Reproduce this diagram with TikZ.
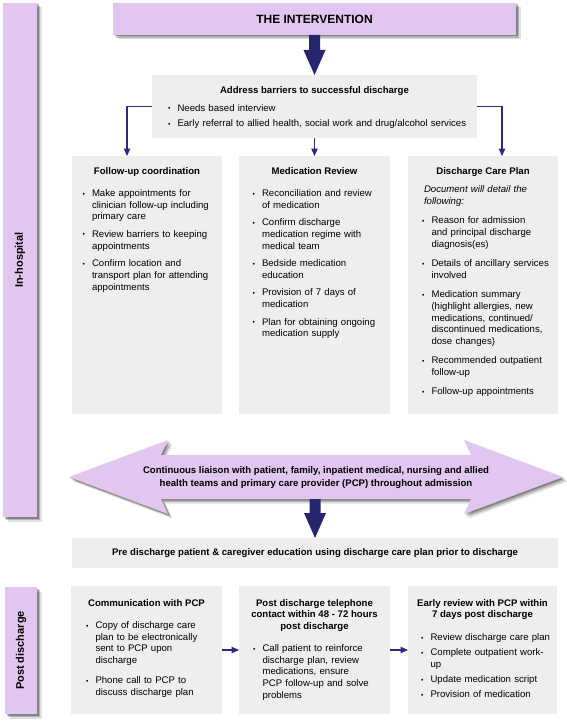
\documentclass[tikz,border=0pt]{standalone}
\usepackage{fontspec}
\setmainfont{Liberation Sans}
\usetikzlibrary{arrows.meta,shadows,calc}
\definecolor{lilac}{HTML}{E1C6F0}
\definecolor{boxgray}{HTML}{F0EEEC}
\definecolor{navy}{HTML}{2A2A80}
\definecolor{deepnavy}{HTML}{26266E}
\newlength\bgap \setlength\bgap{5.8pt}
\newlength\bind \setlength\bind{9.5pt}
\newcommand{\bi}[2][\bgap]{\par\vspace{#1}\hangindent=\bind\hangafter=1\rightskip=-40pt plus 1fil\relax\noindent\hbox to \bind{\raisebox{.5pt}{\scalebox{.7}{\textbullet}}\hss}\strut #2\par}
\newcommand{\fatarrow}[2]{\fill[deepnavy] ($(#1)+(-5.5,0)$) -- ($(#2)+(-5.5,25)$) -- ($(#2)+(-11,25)$) -- (#2) -- ($(#2)+(11,25)$) -- ($(#2)+(5.5,25)$) -- ($(#1)+(5.5,0)$) -- cycle;}
\begin{document}
\begin{tikzpicture}[x=1pt,y=1pt,
  every node/.style={font=\fontsize{9.6}{11.7}\selectfont, inner sep=0pt, outer sep=0pt},
  lshadow/.style={general shadow={fill=black,opacity=.26,shadow xshift=1.5pt,shadow yshift=-1.5pt},
                  general shadow={fill=black,opacity=.2,shadow xshift=3pt,shadow yshift=-3pt},
                  general shadow={fill=black,opacity=.12,shadow xshift=4.5pt,shadow yshift=-4.5pt}},
  lilacbox/.style={fill=lilac, lshadow, anchor=north west},
  graybox/.style={fill=boxgray, anchor=north west},
  hdr/.style={anchor=north, align=center, font=\fontsize{9.6}{11.8}\selectfont\bfseries},
  body/.style={anchor=north west, text width=135pt, align=left, font=\fontsize{9.6}{11.7}\selectfont},
  sidelabel/.style={rotate=90, font=\fontsize{11}{13}\selectfont\bfseries},
  conn/.style={draw=navy, line width=1.1pt, -{Triangle[width=6.5pt,length=7.5pt]}}
]
\fill[white] (0,0) rectangle (567,-725);
\useasboundingbox (0,0) rectangle (567,-725);

% side bars
\node[lilacbox, minimum width=34, minimum height=514] (inbar) at (3,-3) {};
\node[sidelabel] (inlab) at (inbar.center) {In-hospital};
\node[lilacbox, minimum width=32, minimum height=127] (postbar) at (5,-587) {};
\node[sidelabel] (postlab) at (postbar.center) {Post discharge};

% intervention
\node[lilacbox, minimum width=403, minimum height=32, font=\fontsize{12}{14}\selectfont\bfseries] (int) at (113,-3) {};
\node[font=\fontsize{12}{14}\selectfont\bfseries] (intlab) at (int.center) {THE INTERVENTION};

% address barriers
\node[graybox, minimum width=325, minimum height=63] (addr) at (152,-75) {};
\node[hdr] (addrh) at ($(addr.north)+(0,-9.8)$) {\strut Address barriers to successful discharge};
\node[body, text width=300pt] (addrb) at ($(addr.north west)+(16,-24.8)$) {%
  \bi[0pt]{Needs based interview}
  \bi[3.3pt]{Early referral to allied health, social work and drug/alcohol services}};

\fatarrow{int.south}{addr.north}

% columns
\node[graybox, minimum width=150, minimum height=258] (fu) at (72,-156) {};
\node[graybox, minimum width=151, minimum height=258] (med) at (239,-156) {};
\node[graybox, minimum width=150, minimum height=258] (dcp) at (408,-156) {};

\node[hdr] (fuh) at ($(fu.north)+(0,-9.8)$) {\strut Follow-up coordination};
\node[body] (fub) at ($(fu.north west)+(10.5,-28.8)$) {%
  \bi[0pt]{Make appointments for\newline clinician follow-up including\newline primary care}
  \bi{Review barriers to keeping\newline appointments}
  \bi{Confirm location and\newline transport plan for attending\newline appointments}};

\node[hdr] (medh) at ($(med.north)+(0,-9.8)$) {\strut Medication Review};
\node[body] (medb) at ($(med.north west)+(13.5,-28.8)$) {%
  \bi[0pt]{Reconciliation and review\newline of medication}
  \bi{Confirm discharge\newline medication regime with\newline medical team}
  \bi{Bedside medication\newline education}
  \bi{Provision of 7 days of\newline medication}
  \bi{Plan for obtaining ongoing\newline medication supply}};

\node[hdr] (dcph) at ($(dcp.north)+(0,-9.8)$) {\strut Discharge Care Plan};
\node[body] (dcpb) at ($(dcp.north west)+(14,-28.8)$) {%
  \setlength\bgap{7.6pt}%
  {\leftskip=2pt\itshape\strut Document will detail the\newline following:\par}
  \bi{Reason for admission\newline and principal discharge\newline diagnosis(es)}
  \bi{Details of ancillary services\newline involved}
  \bi{Medication summary\newline (highlight allergies, new\newline medications, continued/\newline discontinued medications,\newline dose changes)}
  \bi{Recommended outpatient\newline follow-up}
  \bi{Follow-up appointments}};

\draw[conn] (addr.west) -| ($(fu.north west)+(55,0)$);
\draw[conn] (addr.east) -| ($(dcp.north west)+(94,0)$);
\draw[conn] (addr.south) -- (med.north);

% liaison double arrow
\fill[lilac, lshadow] (69,-477) -- (168,-440) -- (161,-455) -- (471,-455) -- (464,-440) -- (563,-477)
   -- (464,-514) -- (471,-499) -- (161,-499) -- (168,-514) -- cycle;
\node[align=center, font=\fontsize{9.6}{12.5}\selectfont\bfseries] (liaison) at (316,-477.5)
  {Continuous liaison with patient, family, inpatient medical, nursing and allied\\health teams and primary care provider (PCP) throughout admission};
\coordinate (lbot) at (315,-499);

% pre discharge
\node[graybox, minimum width=486, minimum height=30] (pre) at (72,-538) {};
\node[font=\fontsize{9.6}{11.7}\selectfont\bfseries] (prelab) at (pre.center) {Pre discharge patient \& caregiver education using discharge care plan prior to discharge};
\fatarrow{lbot}{pre.north}

% post discharge boxes
\node[graybox, minimum width=151, minimum height=128] (comm) at (71,-586) {};
\node[graybox, minimum width=151, minimum height=128] (tel) at (239,-586) {};
\node[graybox, minimum width=149, minimum height=128] (early) at (408,-586) {};

\node[hdr] (commh) at ($(comm.north)+(0,-11.8)$) {\strut Communication with PCP};
\node[body] (commb) at ($(comm.north west)+(15,-30.8)$) {%
  \bi[0pt]{Copy of discharge care\newline plan to be electronically\newline sent to PCP upon\newline discharge}
  \bi[8.3pt]{Phone call to PCP to\newline discuss discharge plan}};

\node[hdr] (telh) at ($(tel.north)+(0,-11.8)$) {\strut Post discharge telephone\\contact within 48 - 72 hours\\post discharge};
\node[body] (telb) at ($(tel.north west)+(14,-53.8)$) {%
  \bi[0pt]{Call patient to reinforce\newline discharge plan, review\newline medications, ensure\newline PCP follow-up and solve\newline problems}};

\node[hdr] (earlyh) at ($(early.north)+(0,-11.8)$) {\strut Early review with PCP within\\7 days post discharge};
\node[body] (earlyb) at ($(early.north west)+(13,-42.8)$) {%
  \bi[0pt]{Review discharge care plan}
  \bi[3.5pt]{Complete outpatient work-\newline up}
  \bi[3.5pt]{Update medication script}
  \bi[3.5pt]{Provision of medication}};

\draw[conn] (comm.east) -- (tel.west);
\draw[conn] (tel.east) -- (early.west);
\end{tikzpicture}
\end{document}
